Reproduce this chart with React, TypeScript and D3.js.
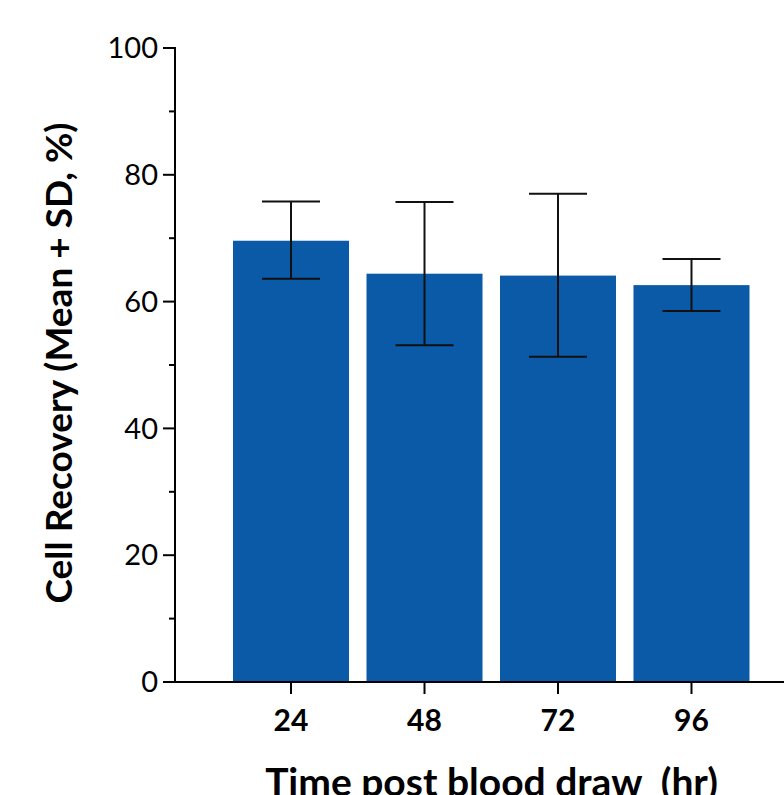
import React from "react";
import * as d3 from "d3";

const categories = ["24", "48", "72", "96"];
const means = [69.6, 64.4, 64.1, 62.6];
const upper = [75.8, 75.7, 77.0, 66.7];
const lower = [63.6, 53.1, 51.3, 58.5];
const majorTicks = [0, 20, 40, 60, 80, 100];
const minorTicks = [10, 30, 50, 70, 90];

const W = 784;
const H = 795;
const FONT = "Lato, 'Open Sans', sans-serif";

export default function App() {
  const y = d3.scaleLinear().domain([0, 100]).range([682, 48]);
  const x = d3
    .scaleBand<string>()
    .domain(categories)
    .range([175, 807.5])
    .paddingInner(0.131)
    .paddingOuter(0.4345);
  const bw = x.bandwidth();
  const axisX = 175;
  const baseY = y(0);
  const capHalf = 29;
  return (
    <svg
      width={W}
      height={H}
      style={{ position: "absolute", left: 0, top: 0, background: "#fff" }}
    >
      {categories.map((c, i) => (
        <rect
          key={c}
          x={x(c)!}
          y={y(means[i])}
          width={bw}
          height={baseY - y(means[i])}
          fill="#0a5aa8"
        />
      ))}
      {categories.map((c, i) => {
        const cx = x(c)! + bw / 2;
        return (
          <g key={"e" + c} stroke="#111" strokeWidth={2} fill="none">
            <line x1={cx} x2={cx} y1={y(upper[i])} y2={y(lower[i])} />
            <line x1={cx - capHalf} x2={cx + capHalf} y1={y(upper[i])} y2={y(upper[i])} />
            <line x1={cx - capHalf} x2={cx + capHalf} y1={y(lower[i])} y2={y(lower[i])} />
          </g>
        );
      })}
      {/* y axis */}
      <line x1={axisX} x2={axisX} y1={y(100) - 1} y2={baseY + 1} stroke="#000" strokeWidth={2} />
      {majorTicks.map((t) => (
        <g key={"m" + t}>
          <line x1={axisX - 12} x2={axisX} y1={y(t)} y2={y(t)} stroke="#000" strokeWidth={2} />
          <text
            x={axisX - 17}
            y={y(t)}
            dy="0.35em"
            textAnchor="end"
            fontFamily={FONT}
            fontSize={29}
            fill="#000"
          >
            {t}
          </text>
        </g>
      ))}
      {minorTicks.map((t) => (
        <line key={"n" + t} x1={axisX - 6} x2={axisX} y1={y(t)} y2={y(t)} stroke="#000" strokeWidth={2} />
      ))}
      {/* x axis */}
      <line x1={axisX - 12} x2={W + 10} y1={baseY} y2={baseY} stroke="#000" strokeWidth={2} />
      {categories.map((c) => {
        const cx = x(c)! + bw / 2;
        return (
          <g key={"x" + c}>
            <line x1={cx} x2={cx} y1={baseY} y2={baseY + 12} stroke="#000" strokeWidth={2} />
            <text
              x={cx}
              y={731}
              textAnchor="middle"
              fontFamily={FONT}
              fontWeight="bold"
              fontSize={30}
              fill="#000"
            >
              {c}
            </text>
          </g>
        );
      })}
      <text
        x={491.5}
        y={796}
        textAnchor="middle"
        fontFamily={FONT}
        fontWeight="bold"
        fontSize={39}
        fill="#000"
      >
        Time post blood draw{"\u00a0\u00a0"}(hr)
      </text>
      <text
        transform={`translate(72, 363) rotate(-90)`}
        textAnchor="middle"
        fontFamily={FONT}
        fontWeight="bold"
        fontSize={37}
        fill="#000"
      >
        Cell Recovery (Mean + SD, %)
      </text>
    </svg>
  );
}
